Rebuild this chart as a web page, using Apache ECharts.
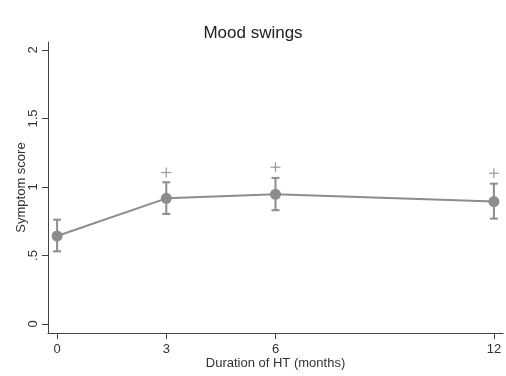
<!DOCTYPE html>
<html>
<head>
<meta charset="utf-8">
<script src="https://cdn.jsdelivr.net/npm/echarts@6/dist/echarts.min.js"></script>
<style>
  html, body { margin: 0; padding: 0; background: #fff; }
  #chart { width: 506px; height: 376px; }
</style>
</head>
<body>
<div id="chart"></div>
<script>
// months since start of HT
var months = [0, 3, 6, 12];
// mean symptom score and its 95% CI
var means = [0.642, 0.917, 0.946, 0.893];
var lower = [0.530, 0.803, 0.830, 0.769];
var upper = [0.761, 1.034, 1.066, 1.024];
// "+" significance markers
var plusMonths = [3, 6, 12];
var plusValues = [1.105, 1.144, 1.100];
// tick labels
var xTicks = [0, 3, 6, 12];
var yTicks = [0, 0.5, 1, 1.5, 2];
var yTickText = ['0', '.5', '1', '1.5', '2'];

var grey = '#8c8c8c';
var font = 'Liberation Sans, Arial, sans-serif';

var myChart = echarts.init(document.getElementById('chart'));

var meanData = months.map(function (m, i) { return [m, means[i]]; });
var ciData = months.map(function (m, i) { return [m, lower[i], upper[i]]; });
var plusData = plusMonths.map(function (m, i) { return [m, plusValues[i]]; });

var option = {
    backgroundColor: '#fff',
    animation: false,
    title: {
        text: 'Mood swings',
        left: 'center',
        top: 20,
        textStyle: { fontFamily: font, fontSize: 17, fontWeight: 'normal', color: '#222' }
    },
    grid: { left: 48, right: 3, top: 42, bottom: 43, containLabel: false, outerBoundsMode: 'none' },
    xAxis: {
        type: 'value',
        min: -0.25,
        max: 12.25,
        name: 'Duration of HT (months)',
        nameLocation: 'middle',
        nameGap: 24,
        nameMoveOverlap: false,
        nameTextStyle: { fontFamily: font, fontSize: 13, color: '#333' },
        splitLine: { show: false },
        axisLine: { show: true, onZero: false, lineStyle: { color: '#444', width: 1 } },
        axisTick: { show: true, length: 6, customValues: xTicks, lineStyle: { color: '#444' } },
        axisLabel: { customValues: xTicks, margin: 10, fontFamily: font, fontSize: 13, color: '#333' }
    },
    yAxis: {
        type: 'value',
        min: -0.066,
        max: 2.058,
        name: 'Symptom score',
        nameLocation: 'middle',
        nameGap: 20,
        nameMoveOverlap: false,
        nameTextStyle: { fontFamily: font, fontSize: 13, color: '#333' },
        splitLine: { show: false },
        axisLine: { show: true, onZero: false, lineStyle: { color: '#444', width: 1 } },
        axisTick: { show: true, length: 6, customValues: yTicks, lineStyle: { color: '#444' } },
        axisLabel: {
            customValues: yTicks,
            rotate: 90,
            margin: 8,
            fontFamily: font,
            fontSize: 13,
            color: '#333',
            formatter: function (v) {
                var i = yTicks.indexOf(v);
                return i >= 0 ? yTickText[i] : '';
            }
        }
    },
    series: [
        {
            // CI bars with caps
            type: 'custom',
            data: ciData,
            z: 2,
            renderItem: function (params, api) {
                var top = api.coord([api.value(0), api.value(2)]);
                var bot = api.coord([api.value(0), api.value(1)]);
                var cap = 4;
                var style = { stroke: grey, lineWidth: 2, fill: null };
                return {
                    type: 'group',
                    children: [
                        { type: 'line', shape: { x1: top[0], y1: top[1], x2: bot[0], y2: bot[1] }, style: style },
                        { type: 'line', shape: { x1: top[0] - cap, y1: top[1], x2: top[0] + cap, y2: top[1] }, style: style },
                        { type: 'line', shape: { x1: bot[0] - cap, y1: bot[1], x2: bot[0] + cap, y2: bot[1] }, style: style }
                    ]
                };
            }
        },
        {
            type: 'line',
            data: meanData,
            z: 3,
            symbol: 'circle',
            symbolSize: 11,
            lineStyle: { color: grey, width: 2 },
            itemStyle: { color: grey }
        },
        {
            // plus markers
            type: 'custom',
            data: plusData,
            z: 3,
            renderItem: function (params, api) {
                var p = api.coord([api.value(0), api.value(1)]);
                var h = 5;
                var style = { stroke: '#999', lineWidth: 1.2, fill: null };
                return {
                    type: 'group',
                    children: [
                        { type: 'line', shape: { x1: p[0] - h, y1: p[1], x2: p[0] + h, y2: p[1] }, style: style },
                        { type: 'line', shape: { x1: p[0], y1: p[1] - h, x2: p[0], y2: p[1] + h }, style: style }
                    ]
                };
            }
        }
    ]
};
myChart.setOption(option);
</script>
</body>
</html>
